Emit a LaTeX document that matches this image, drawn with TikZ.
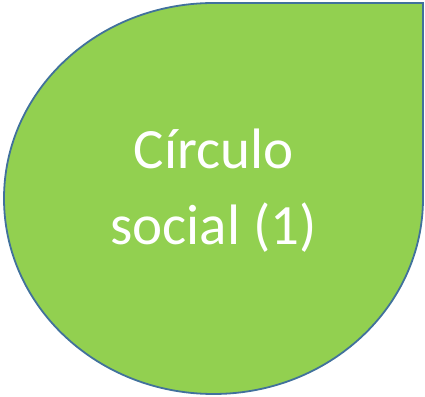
\documentclass[tikz,border=0pt]{standalone}
\usepackage{fontspec}
\setmainfont{Carlito}
\usepackage{xcolor}
\definecolor{leafgreen}{HTML}{92D050}
\definecolor{edgeblue}{HTML}{41719C}

\begin{document}
\begin{tikzpicture}[
    x=1pt, y=1pt,
    drop/.style={fill=leafgreen, draw=edgeblue, line width=1.8pt},
    every node/.style={text=white, align=center, font=\fontsize{57}{76}\selectfont}
  ]
  \useasboundingbox (0,0) rectangle (425,396);
  % teardrop with square top-right corner
  \draw[drop] (4,197.5) arc[start angle=180, end angle=90, x radius=209.5, y radius=195.5]
    -- (423,393) -- (423,197.5)
    arc[start angle=0, end angle=-180, x radius=209.5, y radius=195.5] -- cycle;
  \node (circulo) at (213.5,205) {Círculo\\social (1)};
\end{tikzpicture}
\end{document}
